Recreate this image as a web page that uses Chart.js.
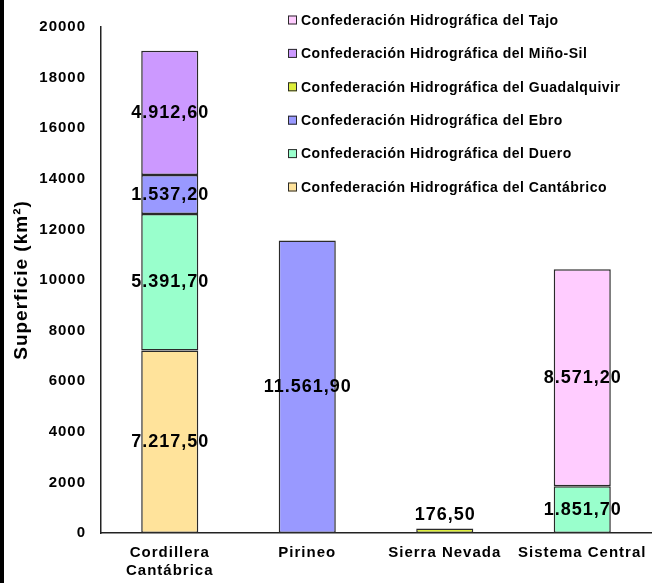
<!DOCTYPE html>
<html>
<head>
<meta charset="utf-8">
<script src="https://cdn.jsdelivr.net/npm/chart.js@4/dist/chart.umd.min.js"></script>
<style>
  html, body { margin: 0; padding: 0; background: #ffffff; }
  #wrap { width: 663px; height: 583px; position: relative; }
</style>
</head>
<body>
<div id="wrap"><canvas id="c" width="663" height="583"></canvas></div>
<script>
// Mountain ranges and the surface (km²) each river basin authority covers there
const categories = [["Cordillera", "Cantábrica"], "Pirineo", "Sierra Nevada", "Sistema Central"];

const cantabrico   = [7217.5, null, null, null];
const duero        = [5391.7, null, null, 1851.7];
const ebro         = [1537.2, 11561.9, null, null];
const guadalquivir = [null, null, 176.5, null];
const minoSil      = [4912.6, null, null, null];
const tajo         = [null, null, null, 8571.2];

const yTicks = [0, 2000, 4000, 6000, 8000, 10000, 12000, 14000, 16000, 18000, 20000];

const FONT = "'Liberation Sans', Arial, sans-serif";
const EDGE = '#2a2a2a';

function fmtEs(v) {
  const [i, d] = v.toFixed(2).split('.');
  return i.replace(/\B(?=(\d{3})+(?!\d))/g, '.') + ',' + d;
}

const series = [
  { label: 'Confederación Hidrográfica del Cantábrico', data: cantabrico, backgroundColor: '#FFE39B' },
  { label: 'Confederación Hidrográfica del Duero', data: duero, backgroundColor: '#99FFCC' },
  { label: 'Confederación Hidrográfica del Ebro', data: ebro, backgroundColor: '#9999FF' },
  { label: 'Confederación Hidrográfica del Guadalquivir', data: guadalquivir, backgroundColor: '#DDEE3A' },
  { label: 'Confederación Hidrográfica del Miño-Sil', data: minoSil, backgroundColor: '#CC99FF' },
  { label: 'Confederación Hidrográfica del Tajo', data: tajo, backgroundColor: '#FFCCFF' }
];

// page background, the dark strip along the left edge, and a slightly open letter spacing
const backdrop = {
  id: 'backdrop',
  beforeDraw(chart) {
    const ctx = chart.ctx;
    ctx.save();
    ctx.fillStyle = '#ffffff';
    ctx.fillRect(0, 0, chart.width, chart.height);
    ctx.fillStyle = '#000000';
    ctx.fillRect(0, 0, 4, chart.height);
    ctx.restore();
    ctx.letterSpacing = '1px';
  }
};

// value labels centred in each segment (small segments get theirs above)
const valueLabels = {
  id: 'valueLabels',
  afterDatasetsDraw(chart) {
    const ctx = chart.ctx;
    ctx.save();
    ctx.letterSpacing = '1px';
    ctx.font = 'bold 18px ' + FONT;
    ctx.fillStyle = '#000000';
    ctx.textAlign = 'center';
    ctx.textBaseline = 'middle';
    chart.data.datasets.forEach((ds, di) => {
      const meta = chart.getDatasetMeta(di);
      meta.data.forEach((el, i) => {
        const v = ds.data[i];
        if (v === null || v === undefined) return;
        const h = Math.abs(el.base - el.y);
        const y = h < 24 ? el.y - 14 : (el.y + el.base) / 2;
        ctx.fillText(fmtEs(v), el.x + 0.5, y);
      });
    });
    ctx.restore();
  }
};

// legend drawn top-right over the plot, last series first
const sideLegend = {
  id: 'sideLegend',
  afterDraw(chart) {
    const ctx = chart.ctx;
    const x0 = 288, y0 = 20, step = 33.4, box = 9;
    ctx.save();
    ctx.letterSpacing = '0.5px';
    ctx.font = 'bold 14px ' + FONT;
    ctx.textAlign = 'left';
    ctx.textBaseline = 'middle';
    const list = chart.data.datasets.slice().reverse();
    list.forEach((ds, k) => {
      const y = y0 + k * step;
      ctx.fillStyle = ds.backgroundColor;
      ctx.fillRect(x0, y - box / 2, box, box);
      ctx.strokeStyle = EDGE;
      ctx.lineWidth = 1;
      ctx.strokeRect(x0 + 0.5, y - box / 2 + 0.5, box - 1, box - 1);
      ctx.fillStyle = '#000000';
      ctx.fillText(ds.label, x0 + 13, y + 1);
    });
    ctx.restore();
  }
};

new Chart(document.getElementById('c'), {
  type: 'bar',
  data: {
    labels: categories,
    datasets: series.map(s => ({
      ...s,
      borderColor: EDGE,
      borderWidth: 1.5,
      borderSkipped: false,
      categoryPercentage: 1,
      barPercentage: 0.415
    }))
  },
  options: {
    responsive: false,
    animation: false,
    devicePixelRatio: 1,
    layout: { padding: { top: 27, right: 12, bottom: 0, left: 0 } },
    plugins: {
      legend: { display: false },
      tooltip: { enabled: false }
    },
    scales: {
      x: {
        stacked: true,
        grid: { display: false, drawTicks: false },
        border: { display: true, color: '#222', width: 1.5 },
        ticks: {
          color: '#000',
          font: { family: FONT, size: 15, weight: 'bold', lineHeight: 1.2 },
          padding: 11,
          maxRotation: 0,
          autoSkip: false
        },
        afterFit(scale) { scale.height = 50; }
      },
      y: {
        stacked: true,
        min: 0,
        max: 20000,
        afterBuildTicks(scale) { scale.ticks = yTicks.map(v => ({ value: v })); },
        grid: { display: false, drawTicks: false },
        border: { display: true, color: '#222', width: 1.5 },
        ticks: {
          color: '#000',
          font: { family: FONT, size: 15, weight: 'bold' },
          padding: 15,
          callback: v => String(v)
        },
        title: {
          display: true,
          text: 'Superficie (km²)',
          color: '#000',
          font: { family: FONT, size: 19, weight: 'bold' },
          padding: { top: 10, bottom: 0 }
        },
        afterFit(scale) { scale.width = 101; }
      }
    }
  },
  plugins: [backdrop, valueLabels, sideLegend]
});
</script>
</body>
</html>
